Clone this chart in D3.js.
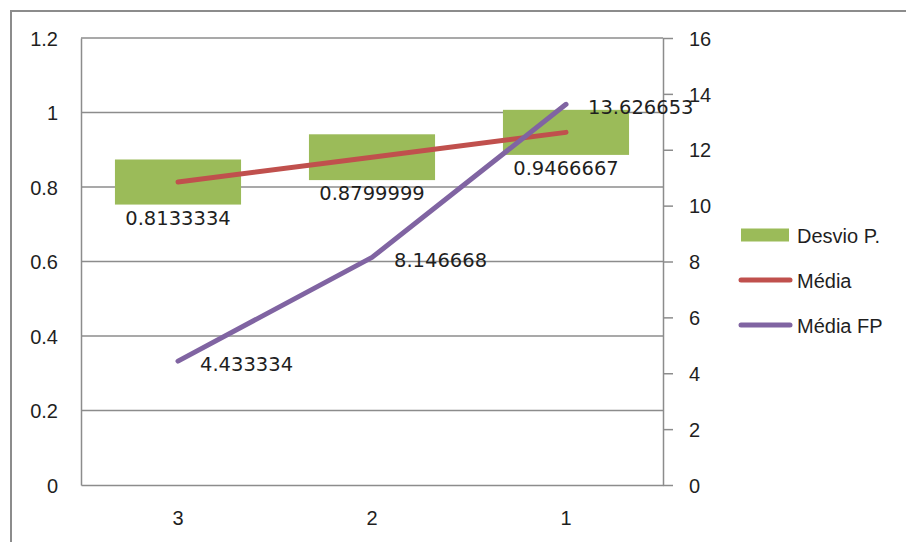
<!DOCTYPE html>
<html>
<head>
<meta charset="utf-8">
<script src="https://cdn.jsdelivr.net/npm/d3@7/dist/d3.min.js"></script>
<style>
  html, body { margin: 0; padding: 0; background: #fff; }
  svg { display: block; }
</style>
</head>
<body>
<svg id="chart" width="906" height="542"></svg>
<script>
// Categories along the bottom axis
const categories = ["3", "2", "1"];
// Média (left axis) with its standard deviation (Desvio P.)
const media = [0.8133334, 0.8799999, 0.9466667];
const desvio = [0.0605, 0.0615, 0.0605];
// Média FP (right axis)
const mediaFP = [4.433334, 8.146668, 13.626653];
// Axis ticks
const leftTicks = [0, 0.2, 0.4, 0.6, 0.8, 1, 1.2];
const rightTicks = [0, 2, 4, 6, 8, 10, 12, 14, 16];
const seriesNames = ["Desvio P.", "Média", "Média FP"];

const colors = { green: "#9BBB59", red: "#C0504D", purple: "#8064A2", axis: "#8c8c8c", text: "#1f1f1f" };
const axisFont = "'Liberation Sans', Arial, sans-serif";
const labelFont = "'DejaVu Sans', Verdana, sans-serif";

const svg = d3.select("#chart");
const plot = { left: 81, right: 663, top: 38, bottom: 485 };

// Outer chart frame
svg.append("rect")
  .attr("x", 11).attr("y", 11).attr("width", 960).attr("height", 600)
  .attr("fill", "none").attr("stroke", colors.axis).attr("stroke-width", 2);

const x = d3.scaleBand().domain(categories).range([plot.left, plot.right]).padding(0);
const yL = d3.scaleLinear().domain([0, 1.2]).range([plot.bottom, plot.top]);
const yR = d3.scaleLinear().domain([0, 16]).range([plot.bottom, plot.top]);
const cx = c => x(c) + x.bandwidth() / 2;

// Horizontal gridlines from the left axis
svg.append("g").selectAll("line").data(leftTicks.slice(1)).join("line")
  .attr("x1", plot.left).attr("x2", plot.right)
  .attr("y1", d => yL(d)).attr("y2", d => yL(d))
  .attr("stroke", colors.axis).attr("stroke-width", 1.5);

// Left axis (labels only, with axis line)
const gL = svg.append("g").attr("transform", `translate(${plot.left},0)`)
  .call(d3.axisLeft(yL).tickValues(leftTicks).tickSize(0).tickPadding(23).tickFormat(d3.format("~g")));
gL.select(".domain").attr("stroke", colors.axis).attr("stroke-width", 1.5);
gL.selectAll("text").attr("font-family", axisFont).attr("font-size", 20).attr("fill", colors.text).attr("dy", "0.36em");

// Right axis with outward ticks
const gR = svg.append("g").attr("transform", `translate(${plot.right},0)`)
  .call(d3.axisRight(yR).tickValues(rightTicks).tickSize(10).tickSizeOuter(0).tickPadding(16));
gR.select(".domain").attr("stroke", colors.axis).attr("stroke-width", 1.5);
gR.selectAll(".tick line").attr("stroke", colors.axis).attr("stroke-width", 1.5);
gR.selectAll("text").attr("font-family", axisFont).attr("font-size", 20).attr("fill", colors.text).attr("dy", "0.36em");

// Bottom category axis
const gB = svg.append("g").attr("transform", `translate(0,${plot.bottom})`)
  .call(d3.axisBottom(x).tickSize(0).tickPadding(26));
gB.select(".domain").attr("stroke", colors.axis).attr("stroke-width", 1.5);
gB.selectAll("text").attr("font-family", axisFont).attr("font-size", 20).attr("fill", colors.text);

// Desvio P. boxes: Média ± desvio
const barW = x.bandwidth() * 0.65;
svg.append("g").selectAll("rect").data(categories).join("rect")
  .attr("x", (c) => cx(c) - barW / 2)
  .attr("y", (c, i) => yL(media[i] + desvio[i]))
  .attr("width", barW)
  .attr("height", (c, i) => yL(media[i] - desvio[i]) - yL(media[i] + desvio[i]))
  .attr("fill", colors.green);

// Média line
const lineL = d3.line().x((d, i) => cx(categories[i])).y(d => yL(d));
svg.append("path").datum(media).attr("d", lineL)
  .attr("fill", "none").attr("stroke", colors.red).attr("stroke-width", 5).attr("stroke-linecap", "round");

// Média FP line
const lineR = d3.line().x((d, i) => cx(categories[i])).y(d => yR(d));
svg.append("path").datum(mediaFP).attr("d", lineR)
  .attr("fill", "none").attr("stroke", colors.purple).attr("stroke-width", 5).attr("stroke-linecap", "round").attr("stroke-linejoin", "round");

// Média labels below each box
svg.append("g").selectAll("text").data(media).join("text")
  .attr("x", (d, i) => cx(categories[i]))
  .attr("y", (d, i) => yL(d - desvio[i]) + 20)
  .attr("text-anchor", "middle")
  .attr("font-family", labelFont).attr("font-size", 19.5).attr("fill", colors.text)
  .text(d => d3.format(".7f")(d));

// Média FP labels to the right of each point
svg.append("g").selectAll("text").data(mediaFP).join("text")
  .attr("x", (d, i) => cx(categories[i]) + 22)
  .attr("y", d => yR(d) + 10)
  .attr("font-family", labelFont).attr("font-size", 19.5).attr("fill", colors.text)
  .text(d => String(d));

// Legend
const legend = svg.append("g");
const ly = [235, 280, 325];
legend.append("rect").attr("x", 741).attr("y", ly[0] - 6.5).attr("width", 48).attr("height", 13).attr("fill", colors.green);
legend.append("line").attr("x1", 741).attr("x2", 790).attr("y1", ly[1]).attr("y2", ly[1])
  .attr("stroke", colors.red).attr("stroke-width", 5).attr("stroke-linecap", "round");
legend.append("line").attr("x1", 741).attr("x2", 790).attr("y1", ly[2]).attr("y2", ly[2])
  .attr("stroke", colors.purple).attr("stroke-width", 5).attr("stroke-linecap", "round");
legend.selectAll("text").data(seriesNames).join("text")
  .attr("x", 797).attr("y", (d, i) => ly[i] + 8)
  .attr("font-family", axisFont).attr("font-size", 20).attr("fill", colors.text)
  .text(d => d);
</script>
</body>
</html>
